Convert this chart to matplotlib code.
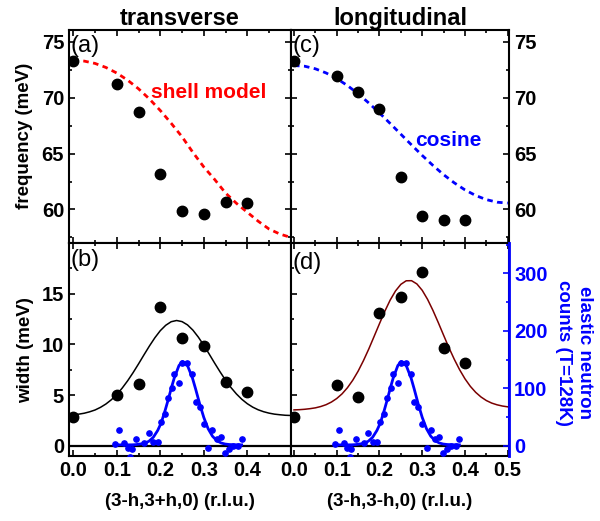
import numpy as np
import matplotlib.pyplot as plt
from matplotlib.ticker import MultipleLocator

plt.rcParams['font.family'] = ['Liberation Sans', 'DejaVu Sans']
plt.rcParams['font.weight'] = 'bold'

# measured points (both directions share the same h values)
h = [0.0, 0.1, 0.15, 0.2, 0.25, 0.3, 0.35, 0.4]
freq_T = [73.28, 71.22, 68.7, 63.16, 59.9, 59.55, 60.66, 60.6]
freq_T_err = [0.2, 0.2, 0.2, 0.45, 0.3, 0.25, 0.2, 0.2]
freq_L = [73.28, 71.9, 70.5, 69.0, 62.9, 59.4, 59.1, 59.1]
freq_L_err = [0.2, 0.2, 0.35, 0.2, 0.2, 0.3, 0.2, 0.2]
width_T = [2.84, 4.98, 6.1, 13.63, 10.66, 9.83, 6.27, 5.3]
width_L = [2.84, 6.04, 4.82, 13.07, 14.68, 17.16, 9.63, 8.19]

# dashed model curves (frequency)
hc = [0.0, 0.025, 0.05, 0.075, 0.1, 0.125, 0.15, 0.175, 0.2, 0.225, 0.25,
      0.275, 0.3, 0.325, 0.35, 0.375, 0.4, 0.425, 0.45, 0.475, 0.5]
shell = [73.35, 73.27, 73.06, 72.7, 72.2, 71.56, 70.79, 69.88, 68.85, 67.71,
         66.5, 65.1, 63.8, 62.68, 61.47, 60.55, 59.75, 58.95, 58.25, 57.8, 57.5]
cosine = [72.87, 72.81, 72.58, 72.21, 71.71, 71.08, 70.35, 69.52, 68.63,
          67.69, 66.73, 65.77, 64.83, 63.94, 63.11, 62.38, 61.75, 61.25,
          60.88, 60.65, 60.57]

# solid width fits
hw = [0.0, 0.0125, 0.025, 0.0375, 0.05, 0.0625, 0.075, 0.0875, 0.1, 0.1125,
      0.125, 0.1375, 0.15, 0.1625, 0.175, 0.1875, 0.2, 0.2125, 0.225, 0.2375,
      0.25, 0.2625, 0.275, 0.2875, 0.3, 0.3125, 0.325, 0.3375, 0.35, 0.3625,
      0.375, 0.3875, 0.4, 0.4125, 0.425, 0.4375, 0.45, 0.4625, 0.475, 0.4875,
      0.5]
wfit_T = [3.06, 3.13, 3.22, 3.36, 3.54, 3.80, 4.13, 4.55, 5.07, 5.70,
          6.42, 7.22, 8.08, 8.97, 9.84, 10.65, 11.35, 11.88, 12.23, 12.35,
          12.24, 11.92, 11.40, 10.71, 9.91, 9.04, 8.15, 7.29, 6.48, 5.75,
          5.12, 4.59, 4.16, 3.82, 3.56, 3.37, 3.23, 3.13, 3.07, 3.02,
          3.0]
wfit_L = [3.55, 3.57, 3.61, 3.67, 3.75, 3.88, 4.06, 4.32, 4.67, 5.13,
          5.73, 6.47, 7.36, 8.40, 9.55, 10.79, 12.04, 13.26, 14.36, 15.26,
          15.91, 16.26, 16.27, 15.95, 15.32, 14.43, 13.35, 12.15, 10.90, 9.67,
          8.53, 7.50, 6.61, 5.87, 5.28, 4.82, 4.47, 4.22, 4.05, 3.93,
          3.85]

# elastic neutron counts (T=128K)
hb = [0.096, 0.105, 0.117, 0.125, 0.130, 0.134, 0.144, 0.163, 0.174, 0.184,
      0.194, 0.202, 0.211, 0.218, 0.226, 0.232, 0.243, 0.251, 0.262, 0.274,
      0.281, 0.291, 0.300, 0.310, 0.320, 0.330, 0.340, 0.349, 0.358, 0.368,
      0.378, 0.387]
counts = [3, 27, 6, -4, -20, -6, 12, 6, 23, 7,
          7, 42, 55, 84, 100, 126, 110, 145, 145, 125,
          77, 68, 39, -3, 27, 12, 16, -13, -6, 0,
          0, 12]
counts_fit = [2, 2, 2, 2, 2, 2, 2.4, 4.5, 8.3, 15.2,
              27, 40, 61.6, 80, 102.5, 118, 140, 147, 141, 118,
              99.7, 72, 49.7, 30, 17, 9.3, 5.2, 3.4, 2.6, 2.2,
              2, 2]

BLUE = '#0000ff'
RED = '#ff0000'
BROWN = '#7a0000'

W, H = 600, 521
fig = plt.figure(figsize=(6, 5.21), dpi=100)

def box(x0, y0, x1, y1):
    return [x0 / W, 1 - y1 / H, (x1 - x0) / W, (y1 - y0) / H]

ax1 = fig.add_axes(box(69, 30, 291, 243))
ax2 = fig.add_axes(box(291, 30, 509.3, 243))
ax3 = fig.add_axes(box(69, 243, 291, 456))
ax4 = fig.add_axes(box(291, 243, 509.3, 456))

for ax in (ax1, ax2, ax3, ax4):
    for s in ax.spines.values():
        s.set_linewidth(1.5)
    ax.tick_params(which='both', direction='in', top=True, right=True,
                   width=1.2, labelsize=14.5)
    ax.tick_params(which='major', length=4.5)
    ax.tick_params(which='minor', length=2.5)
    ax.xaxis.set_major_locator(MultipleLocator(0.1))
    ax.xaxis.set_minor_locator(MultipleLocator(0.05))

ax1.set_xlim(-0.0099, 0.5005)
ax3.set_xlim(-0.0099, 0.5005)
ax2.set_xlim(-0.007, 0.5037)
ax4.set_xlim(-0.007, 0.5037)

for ax in (ax1, ax2):
    ax.set_ylim(57.0, 76.05)
    ax.yaxis.set_major_locator(MultipleLocator(5))
    ax.yaxis.set_minor_locator(MultipleLocator(2.5))
    ax.tick_params(labelbottom=False)
ax2.tick_params(labelleft=False, labelright=True)

for ax in (ax3, ax4):
    ax.set_ylim(-0.99, 19.98)
    ax.yaxis.set_major_locator(MultipleLocator(5))
    ax.yaxis.set_minor_locator(MultipleLocator(2.5))
    ax.axhline(0, color='black', lw=1.6, zorder=1)
ax3.set_xticks([0.0, 0.1, 0.2, 0.3, 0.4])
ax3.set_xticklabels(['0.0', '0.1', '0.2', '0.3', '0.4'])
ax4.set_xticks([0.0, 0.1, 0.2, 0.3, 0.4, 0.5])
ax4.set_xticklabels(['0.0', '0.1', '0.2', '0.3', '0.4', '0.5'])
ax4.tick_params(which='both', labelleft=False, right=False)

# (a) transverse frequency
ax1.plot(hc, shell, color=RED, lw=2, dashes=(2, 1.6))
ax1.errorbar(h, freq_T, yerr=freq_T_err, fmt='o', color='black', ms=7.5,
             elinewidth=1.5, capsize=0, zorder=3)
ax1.text(0.179, 70.0, 'shell model', color=RED, fontsize=15,
         ha='left', va='baseline')

# (c) longitudinal frequency
ax2.plot(hc, cosine, color=BLUE, lw=2, dashes=(2, 1.6))
ax2.errorbar(h, freq_L, yerr=freq_L_err, fmt='o', color='black', ms=7.5,
             elinewidth=1.5, capsize=0, zorder=3)
ax2.text(0.283, 65.7, 'cosine', color=BLUE, fontsize=15,
         ha='left', va='baseline')

# (b) transverse width + elastic counts
ax3.plot(hw, wfit_T, color='black', lw=1.1)
ax3.plot(h, width_T, 'o', color='black', ms=7.5, zorder=3)
ax3b = ax3.twinx()
ax3b.set_ylim(-17.4, 353)
ax3b.axis('off')
ax3b.plot(hb, counts_fit, color=BLUE, lw=2)
ax3b.plot(hb, counts, 'o', color=BLUE, ms=3.8)

# (d) longitudinal width + elastic counts
ax4.plot(hw, wfit_L, color=BROWN, lw=1.1)
ax4.plot(h, width_L, 'o', color='black', ms=7.5, zorder=3)
ax4b = ax4.twinx()
ax4b.set_ylim(-17.4, 353)
ax4b.plot(hb, counts_fit, color=BLUE, lw=2)
ax4b.plot(hb, counts, 'o', color=BLUE, ms=3.8)
ax4b.yaxis.set_major_locator(MultipleLocator(100))
ax4b.yaxis.set_minor_locator(MultipleLocator(50))
ax4b.tick_params(which='both', direction='in', colors=BLUE, width=1.2,
                 labelsize=14.5)
ax4b.tick_params(which='major', length=4.5)
ax4b.tick_params(which='minor', length=2.5)
for s in ('left', 'top', 'bottom'):
    ax4b.spines[s].set_visible(False)
ax4b.spines['right'].set_color(BLUE)
ax4b.spines['right'].set_linewidth(2)

# panel letters
for ax, letter, ytop in ((ax1, '(a)', 0.975), (ax2, '(c)', 0.975),
                         (ax3, '(b)', 0.972), (ax4, '(d)', 0.958)):
    ax.text(0.009, ytop, letter, transform=ax.transAxes, fontsize=17,
            fontweight='normal', ha='left', va='top')

# titles and axis labels
fig.text(180 / W, 1 - 25 / H, 'transverse', fontsize=17,
         ha='center', va='baseline')
fig.text(400 / W, 1 - 24.5 / H, 'longitudinal', fontsize=17,
         ha='center', va='baseline')
fig.text(25 / W, 1 - 136 / H, 'frequency (meV)', fontsize=13.5,
         rotation=90, ha='center', va='center')
fig.text(26 / W, 1 - 350 / H, 'width (meV)', fontsize=13.5,
         rotation=90, ha='center', va='center')
fig.text(180 / W, 1 - 502 / H, '(3-h,3+h,0) (r.l.u.)', fontsize=13.5,
         ha='center', va='center')
fig.text(400 / W, 1 - 502 / H, '(3-h,3-h,0) (r.l.u.)', fontsize=13.5,
         ha='center', va='center')
fig.text(574 / W, 1 - 353 / H, 'elastic neutron\ncounts (T=128K)',
         fontsize=13.5, color=BLUE, rotation=270,
         ha='center', va='center', linespacing=1.35)

for ax in (ax1, ax2, ax3, ax4, ax4b):
    for lab in ax.get_xticklabels() + ax.get_yticklabels():
        lab.set_fontweight('bold')
    for t in ax.yaxis.get_major_ticks():
        t.label2.set_fontweight('bold')

fig.savefig('out.png', dpi=100)
